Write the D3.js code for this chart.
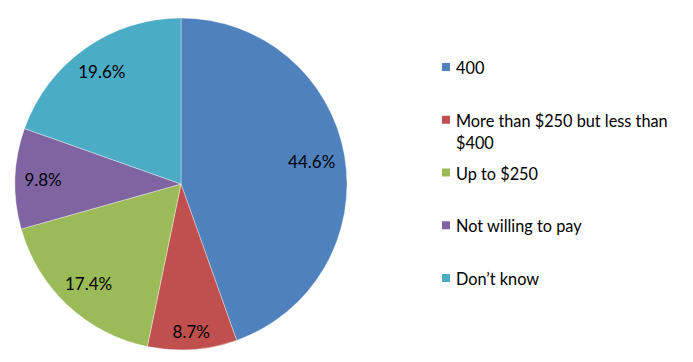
<!DOCTYPE html>
<html>
<head>
<meta charset="utf-8">
<script src="https://cdn.jsdelivr.net/npm/d3@7"></script>
<style>
  body { margin: 0; background: #fff; }
  svg text { font-family: Lato, "Open Sans", sans-serif; fill: #000; }
</style>
</head>
<body>
<div id="chart"></div>
<script>
'use strict';

var categories = ['400', 'More than $250 but less than $400', 'Up to $250', 'Not willing to pay', 'Don\u2019t know'];
var values = [44.6, 8.7, 17.4, 9.8, 19.6];
var colors = ['#4F81BD', '#C0504D', '#9BBB59', '#8064A2', '#4BACC6'];

var width = 693, height = 362;
var center = { x: 181, y: 184 };
var radius = 166;
var labelReach = 157;   // farthest corner of a label box sits this far from centre

var svg = d3.select('#chart').append('svg')
  .attr('width', width)
  .attr('height', height);

var data = categories.map(function(c, i) { return { name: c, value: values[i], color: colors[i] }; });

var pie = d3.pie().sort(null).value(function(d) { return d.value; });
var arc = d3.arc().innerRadius(0).outerRadius(radius);
var arcs = pie(data);

var g = svg.append('g')
  .attr('transform', 'translate(' + center.x + ',' + center.y + ')');

g.selectAll('path')
  .data(arcs)
  .enter()
  .append('path')
  .attr('d', arc)
  .attr('fill', function(d) { return d.data.color; })
  .attr('stroke', '#ffffff')
  .attr('stroke-opacity', 0.6)
  .attr('stroke-width', 0.6);

// labels: push each box out until its outer corner touches labelReach
var labels = g.selectAll('text.pct')
  .data(arcs)
  .enter()
  .append('text')
  .attr('class', 'pct')
  .attr('text-anchor', 'middle')
  .attr('dominant-baseline', 'central')
  .style('font-size', '17px')
  .text(function(d) { return d.data.value.toFixed(1) + '%'; });

labels.each(function(d) {
  var box = this.getBBox();
  var a = (d.startAngle + d.endAngle) / 2;
  var ux = Math.sin(a), uy = -Math.cos(a);
  var cx = (ux >= 0 ? 1 : -1) * box.width / 2;
  var cy = (uy >= 0 ? 1 : -1) * 6.5;
  var dot = ux * cx + uy * cy;
  var dist = -dot + Math.sqrt(dot * dot - (cx * cx + cy * cy) + labelReach * labelReach);
  d3.select(this).attr('x', ux * dist).attr('y', uy * dist);
});

// legend
var legendY = d3.scalePoint()
  .domain(categories)
  .range([67, 278]);

var legend = svg.append('g').attr('class', 'legend');

var items = legend.selectAll('g')
  .data(data)
  .enter()
  .append('g')
  .attr('transform', function(d) { return 'translate(442,' + legendY(d.name) + ')'; });

items.append('rect')
  .attr('x', 0)
  .attr('y', -4)
  .attr('width', 8)
  .attr('height', 8)
  .attr('fill', function(d) { return d.color; });

items.append('text')
  .attr('x', 14)
  .attr('y', 0)
  .attr('dominant-baseline', 'central')
  .style('font-size', '16.3px')
  .each(function(d) {
    var t = d3.select(this);
    var words = d.name.split(' ');
    var line = [];
    var tspan = t.append('tspan').attr('x', 14).attr('dy', 0);
    words.forEach(function(w) {
      line.push(w);
      tspan.text(line.join(' '));
      if (tspan.node().getComputedTextLength() > 228 && line.length > 1) {
        line.pop();
        tspan.text(line.join(' '));
        line = [w];
        tspan = t.append('tspan').attr('x', 14).attr('dy', 22).text(w);
      }
    });
  });
</script>
</body>
</html>
